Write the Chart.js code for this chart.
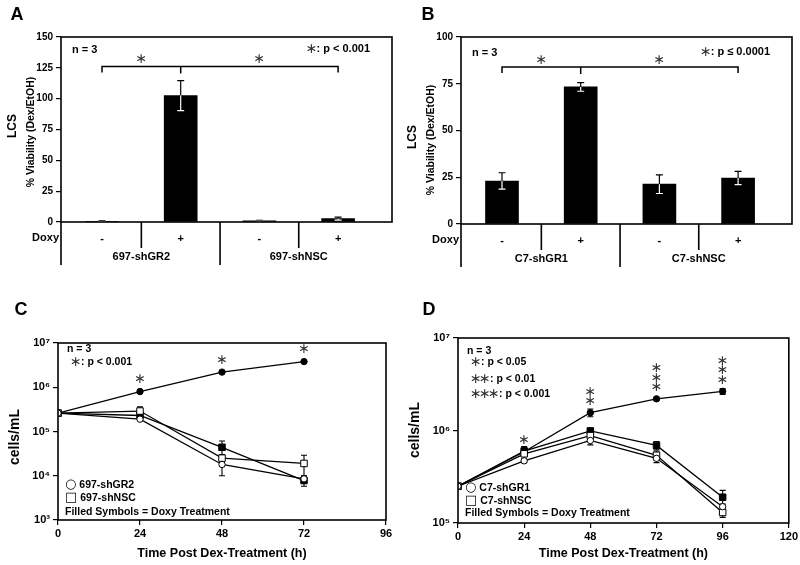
<!DOCTYPE html>
<html><head><meta charset="utf-8">
<script src="https://cdn.jsdelivr.net/npm/chart.js@4.4.1/dist/chart.umd.min.js"></script>
<style>
html,body{margin:0;padding:0;background:#fff;}
#wrap{position:relative;width:800px;height:565px;overflow:hidden;}
canvas{position:absolute;}
</style></head><body>
<div id="wrap">
<canvas id="cA" width="400" height="280" style="left:0;top:0"></canvas>
<canvas id="cB" width="400" height="280" style="left:400px;top:0"></canvas>
<canvas id="cC" width="400" height="285" style="left:0;top:280px"></canvas>
<canvas id="cD" width="400" height="285" style="left:400px;top:280px"></canvas>
</div>
<script>
// ---------- DATA ----------
// Panel A
const groupsA = ['697-shGR2', '697-shNSC'];
const doxyA = ['-', '+', '-', '+'];
const valuesA = [0.6, 102.5, 1.0, 2.7];
const errA = [0.3, 12.2, 0.4, 1.2];
const yTicksA = [0, 25, 50, 75, 100, 125, 150];
// Panel B
const groupsB = ['C7-shGR1', 'C7-shNSC'];
const doxyB = ['-', '+', '-', '+'];
const valuesB = [23.0, 73.3, 21.3, 24.6];
const errB = [4.4, 2.3, 5.0, 3.5];
const yTicksB = [0, 25, 50, 75, 100];
// Panel C (cells/mL)
const timesC = [0, 24, 48, 72];
const xTicksC = [0, 24, 48, 72, 96];
const cGR2 = [2.6e5, 1.9e5, 1.8e4, 8.5e3];
const cGR2sd = [0, 1.0e4, 0.8e4, 1.5e3];
const cNSC = [2.6e5, 2.9e5, 2.5e4, 1.9e4];
const cNSCsd = [0, 0.7e5, 0.5e4, 1.0e4];
const cGR2dox = [2.6e5, 8.0e5, 2.2e6, 3.8e6];
const cGR2doxsd = [0, 0, 0, 0];
const cNSCdox = [2.6e5, 2.3e5, 4.4e4, 7.8e3];
const cNSCdoxsd = [0, 0.2e5, 1.7e4, 2.0e3];
const cStars = [0, 1, 1, 1];
// Panel D (cells/mL)
const timesD = [0, 24, 48, 72, 96];
const xTicksD = [0, 24, 48, 72, 96, 120];
const dGR1 = [2.5e5, 4.7e5, 7.8e5, 5.0e5, 1.5e5];
const dGR1sd = [0, 0.2e5, 0.8e5, 0.5e5, 0.1e5];
const dNSC = [2.5e5, 5.6e5, 8.8e5, 5.4e5, 1.3e5];
const dNSCsd = [0, 0.3e5, 0.5e5, 0.6e5, 0.15e5];
const dGR1dox = [2.5e5, 5.9e5, 1.56e6, 2.2e6, 2.65e6];
const dGR1doxsd = [0, 0.6e5, 0.15e6, 0.08e6, 0.2e6];
const dNSCdox = [2.5e5, 6.0e5, 9.9e5, 6.9e5, 1.9e5];
const dNSCdoxsd = [0, 0.7e5, 0.05e6, 0.7e5, 0.35e5];
const dStars = [0, 1, 2, 3, 3];
const logTicksC = [1e3, 1e4, 1e5, 1e6, 1e7];
const logTicksD = [1e5, 1e6, 1e7];

// ---------- STYLE ----------
const FAM = '"Liberation Sans", Arial, sans-serif';
const STARF = '"DejaVu Sans", sans-serif';
const STAR = '\u2217';
Chart.defaults.font.family = FAM;
Chart.defaults.color = '#000';
const SUP = {'0':'\u2070','1':'\u00b9','2':'\u00b2','3':'\u00b3','4':'\u2074','5':'\u2075','6':'\u2076','7':'\u2077','8':'\u2078','9':'\u2079'};

function vtext(ctx, text, x, y, font) {
  ctx.save(); ctx.translate(x, y); ctx.rotate(-Math.PI / 2);
  ctx.font = font; ctx.textAlign = 'center'; ctx.textBaseline = 'middle';
  ctx.fillText(text, 0, 0); ctx.restore();
}
function star(ctx, x, y, size) {
  ctx.save(); ctx.font = (size || 14) + 'px ' + STARF; ctx.textAlign = 'center'; ctx.textBaseline = 'middle';
  ctx.fillStyle = '#333'; ctx.fillText(STAR, x, y); ctx.restore();
}
// draw "*** : text" line
function starLine(ctx, n, text, x, y) {
  ctx.save();
  ctx.font = '14px ' + STARF; ctx.textAlign = 'left'; ctx.textBaseline = 'middle'; ctx.fillStyle = '#333';
  let cx = x;
  for (let i = 0; i < n; i++) { ctx.fillText(STAR, cx, y); cx += 9; }
  ctx.font = 'bold 10.5px ' + FAM; ctx.fillStyle = '#000';
  ctx.fillText(text, cx + 2, y);
  ctx.restore();
}

// ---------- BAR PANELS ----------
function barChart(id, cfg) {
  const plugin = {
    id: 'decor' + id,
    afterDatasetsDraw(chart) {
      const ctx = chart.ctx, xs = chart.scales.x, ys = chart.scales.y;
      ctx.save(); ctx.lineWidth = 1.2;
      cfg.values.forEach((v, i) => {
        const e = cfg.err[i];
        const x = xs.getPixelForValue(i + 1);
        const yv = ys.getPixelForValue(v), yh = ys.getPixelForValue(v + e), yl = ys.getPixelForValue(Math.max(0, v - e));
        ctx.strokeStyle = '#000';
        ctx.beginPath(); ctx.moveTo(x, yv); ctx.lineTo(x, yh); ctx.moveTo(x - 3.5, yh); ctx.lineTo(x + 3.5, yh); ctx.stroke();
        ctx.strokeStyle = '#fff';
        ctx.beginPath(); ctx.moveTo(x, yv); ctx.lineTo(x, yl); ctx.moveTo(x - 3.5, yl); ctx.lineTo(x + 3.5, yl); ctx.stroke();
      });
      ctx.restore();
    },
    afterDraw(chart) {
      const ctx = chart.ctx, a = chart.chartArea, xs = chart.scales.x, ys = chart.scales.y;
      ctx.save();
      ctx.strokeStyle = '#000'; ctx.lineWidth = 1.6;
      ctx.strokeRect(a.left, a.top, a.right - a.left, a.bottom - a.top);
      ctx.beginPath();
      ctx.moveTo(a.left, a.bottom); ctx.lineTo(a.left, a.bottom + 43);
      const xm = xs.getPixelForValue(2.5);
      ctx.moveTo(xm, a.bottom); ctx.lineTo(xm, a.bottom + 43);
      [1.5, 3.5].forEach(v => { const x = xs.getPixelForValue(v); ctx.moveTo(x, a.bottom); ctx.lineTo(x, a.bottom + 26); });
      ctx.stroke();
      // bracket
      const by = ys.getPixelForValue(cfg.bracket);
      const x1 = xs.getPixelForValue(1), x2 = xs.getPixelForValue(2), x4 = xs.getPixelForValue(4);
      ctx.lineWidth = 1.5;
      ctx.beginPath();
      ctx.moveTo(x1, by + 6); ctx.lineTo(x1, by); ctx.lineTo(x4, by); ctx.lineTo(x4, by + 6);
      ctx.moveTo(x2, by); ctx.lineTo(x2, by + 7);
      ctx.stroke();
      star(ctx, xs.getPixelForValue(1.5), by - 7, 14);
      star(ctx, xs.getPixelForValue(3), by - 7, 14);
      // texts
      ctx.fillStyle = '#000';
      ctx.textBaseline = 'middle';
      ctx.font = 'bold 11px ' + FAM;
      ctx.textAlign = 'left';
      ctx.fillText('n = 3', a.left + 11, cfg.nY);
      ctx.textAlign = 'right';
      ctx.fillText(cfg.pText, a.right - 22, cfg.nY - 1);
      const tw = ctx.measureText(cfg.pText).width;
      star(ctx, a.right - 22 - tw - 5, cfg.nY - 1, 14);
      // table
      ctx.font = 'bold 11px ' + FAM;
      ctx.textAlign = 'right';
      ctx.fillText('Doxy', a.left - 2, a.bottom + 16);
      ctx.textAlign = 'center';
      cfg.doxy.forEach((d, i) => ctx.fillText(d, xs.getPixelForValue(i + 1), a.bottom + 17));
      cfg.groups.forEach((g, i) => ctx.fillText(g, xs.getPixelForValue(1.5 + 2 * i), a.bottom + 35));
      // axis titles
      vtext(ctx, 'LCS', 13, cfg.lcsY, 'bold 12px ' + FAM);
      vtext(ctx, '% Viability (Dex/EtOH)', 31, cfg.vY, 'bold 10.5px ' + FAM);
      // panel letter
      ctx.font = 'bold 18px ' + FAM; ctx.textAlign = 'center';
      ctx.fillText(cfg.letter, cfg.letterX, 15);
      ctx.restore();
    }
  };
  return new Chart(document.getElementById(id), {
    type: 'bar',
    data: { datasets: [{ data: cfg.values.map((v, i) => ({ x: i + 1, y: v })), backgroundColor: '#000', borderColor: '#000', borderWidth: 0, barThickness: 33 }] },
    options: {
      responsive: false, animation: false,
      plugins: { legend: { display: false }, tooltip: { enabled: false } },
      layout: { padding: { left: 0, top: 37, right: 8, bottom: 0 } },
      scales: {
        x: { type: 'linear', offset: false, min: 0.479, max: 4.685, ticks: { display: false }, grid: { display: false }, border: { display: false },
             afterFit(s) { s.height = cfg.xH; } },
        y: { min: 0, max: cfg.yMax,
             afterBuildTicks(s) { s.ticks = cfg.yTicks.map(v => ({ value: v })); },
             ticks: { font: { weight: 'bold', size: 10 }, color: '#000', padding: 3 },
             grid: { drawOnChartArea: false, drawTicks: true, tickLength: 5, color: '#000', lineWidth: 1.2 },
             border: { display: false },
             afterFit(s) { s.width = 61; } }
      }
    },
    plugins: [plugin]
  });
}

barChart('cA', { values: valuesA, err: errA, doxy: doxyA, groups: groupsA, yMax: 150, yTicks: yTicksA, xH: 58,
  bracket: 126, pText: ': p < 0.001', nY: 50, lcsY: 126, vY: 132, letter: 'A', letterX: 17 });
barChart('cB', { values: valuesB, err: errB, doxy: doxyB, groups: groupsB, yMax: 100, yTicks: yTicksB, xH: 56,
  bracket: 84, pText: ': p \u2264 0.0001', nY: 53, lcsY: 137, vY: 140, letter: 'B', letterX: 28 });

// ---------- LINE PANELS ----------
function ds(times, vals, sd, style, filled) {
  return {
    data: times.map((t, i) => ({ x: t, y: vals[i] })), sd: sd,
    borderColor: '#000', borderWidth: 1.3, tension: 0,
    pointStyle: style, pointRadius: style === 'rect' ? 4.6 : 3.2,
    pointBackgroundColor: filled ? '#000' : '#fff', pointBorderColor: '#000', pointBorderWidth: 1
  };
}
function lineChart(id, cfg) {
  const plugin = {
    id: 'decor' + id,
    beforeDatasetsDraw(chart) {
      const ctx = chart.ctx, xs = chart.scales.x, ys = chart.scales.y;
      ctx.save(); ctx.strokeStyle = '#000'; ctx.lineWidth = 1.1;
      chart.data.datasets.forEach(d => {
        d.data.forEach((p, i) => {
          const e = d.sd[i]; if (!e) return;
          const x = xs.getPixelForValue(p.x);
          const yh = ys.getPixelForValue(p.y + e), yl = ys.getPixelForValue(Math.max(p.y - e, 1));
          ctx.beginPath(); ctx.moveTo(x, yl); ctx.lineTo(x, yh);
          ctx.moveTo(x - 3, yh); ctx.lineTo(x + 3, yh); ctx.moveTo(x - 3, yl); ctx.lineTo(x + 3, yl); ctx.stroke();
        });
      });
      ctx.restore();
    },
    afterDraw(chart) {
      const ctx = chart.ctx, a = chart.chartArea, xs = chart.scales.x, ys = chart.scales.y;
      ctx.save();
      ctx.strokeStyle = '#000'; ctx.lineWidth = 1.6;
      ctx.strokeRect(a.left, a.top, a.right - a.left, a.bottom - a.top);
      const sd = chart.data.datasets[cfg.starSet];
      cfg.stars.forEach((n, i) => {
        const p = sd.data[i]; const x = xs.getPixelForValue(p.x), y = ys.getPixelForValue(p.y);
        for (let k = 0; k < n; k++) star(ctx, x, y - cfg.starOff - k * 9.5, 14);
      });
      ctx.fillStyle = '#000'; ctx.textBaseline = 'middle'; ctx.textAlign = 'left';
      ctx.font = 'bold 10.5px ' + FAM;
      ctx.fillText('n = 3', a.left + 9, cfg.nY);
      cfg.pLines.forEach(l => starLine(ctx, l[0], l[1], a.left + 12, l[2]));
      // legend-like notes
      ctx.fillStyle = '#000'; ctx.textAlign = 'left';
      cfg.legend.forEach((t, i) => {
        let x = a.left + 7;
        if (cfg.legSym[i]) {
          ctx.font = '13px "DejaVu Sans", sans-serif';
          ctx.fillText(cfg.legSym[i], x, cfg.legY[i]);
          x += ctx.measureText(cfg.legSym[i]).width + 3;
        }
        ctx.font = 'bold 10.5px ' + FAM;
        ctx.fillText(t, x, cfg.legY[i]);
      });
      vtext(ctx, 'cells/mL', 15, cfg.yTitleY, 'bold 14px ' + FAM);
      ctx.font = 'bold 12.5px ' + FAM; ctx.textAlign = 'center';
      ctx.fillText('Time Post Dex-Treatment (h)', (a.left + a.right) / 2, 274);
      ctx.font = 'bold 18px ' + FAM;
      ctx.fillText(cfg.letter, cfg.letterX, 30);
      ctx.restore();
    }
  };
  return new Chart(document.getElementById(id), {
    type: 'line',
    data: { datasets: cfg.datasets },
    options: {
      responsive: false, animation: false,
      plugins: { legend: { display: false }, tooltip: { enabled: false } },
      layout: { padding: { left: 0, top: cfg.top, right: cfg.right, bottom: 0 } },
      scales: {
        x: { type: 'linear', min: 0, max: cfg.xMax,
             afterBuildTicks(s) { s.ticks = cfg.xTicks.map(v => ({ value: v })); },
             ticks: { font: { weight: 'bold', size: 11 }, color: '#000', padding: 2, maxRotation: 0 },
             grid: { drawOnChartArea: false, drawTicks: true, tickLength: 5, color: '#000', lineWidth: 1.2 },
             border: { display: false },
             afterFit(s) { s.height = cfg.xH; } },
        y: { type: 'logarithmic', min: cfg.yMin, max: 1e7,
             afterBuildTicks(s) { s.ticks = cfg.yTicks.map(v => ({ value: v })); },
             ticks: { font: { weight: 'bold', size: 11 }, color: '#000', padding: 3,
                      callback: v => '10' + String(Math.round(Math.log10(v))).split('').map(c => SUP[c]).join('') },
             grid: { drawOnChartArea: false, drawTicks: true, tickLength: 5, color: '#000', lineWidth: 1.2 },
             border: { display: false },
             afterFit(s) { s.width = 58; } }
      }
    },
    plugins: [plugin]
  });
}

lineChart('cC', {
  datasets: [
    ds(timesC, cGR2, cGR2sd, 'circle', false),
    ds(timesC, cNSC, cNSCsd, 'rect', false),
    ds(timesC, cNSCdox, cNSCdoxsd, 'rect', true),
    ds(timesC, cGR2dox, cGR2doxsd, 'circle', true)
  ],
  starSet: 3, stars: cStars, starOff: 12,
  xMax: 96, xTicks: xTicksC, yMin: 1e3, yTicks: logTicksC,
  top: 63, right: 14, xH: 45,
  nY: 69, pLines: [[1, ': p < 0.001', 82]],
  legend: ['697-shGR2', '697-shNSC', 'Filled Symbols = Doxy Treatment'], legSym: ['\u25cb', '\u25a1', ''], legY: [205, 218, 232],
  yTitleY: 157, letter: 'C', letterX: 21
});
lineChart('cD', {
  datasets: [
    ds(timesD, dGR1, dGR1sd, 'circle', false),
    ds(timesD, dNSC, dNSCsd, 'rect', false),
    ds(timesD, dNSCdox, dNSCdoxsd, 'rect', true),
    ds(timesD, dGR1dox, dGR1doxsd, 'circle', true)
  ],
  starSet: 3, stars: dStars, starOff: 11,
  xMax: 120, xTicks: xTicksD, yMin: 1e5, yTicks: logTicksD,
  top: 58, right: 10, xH: 42,
  nY: 71, pLines: [[1, ': p < 0.05', 82], [2, ': p < 0.01', 99], [3, ': p < 0.001', 114]],
  legend: ['C7-shGR1', 'C7-shNSC', 'Filled Symbols = Doxy Treatment'], legSym: ['\u25cb', '\u25a1', ''], legY: [208, 221, 233],
  yTitleY: 150, letter: 'D', letterX: 29
});
</script>
</body></html>
